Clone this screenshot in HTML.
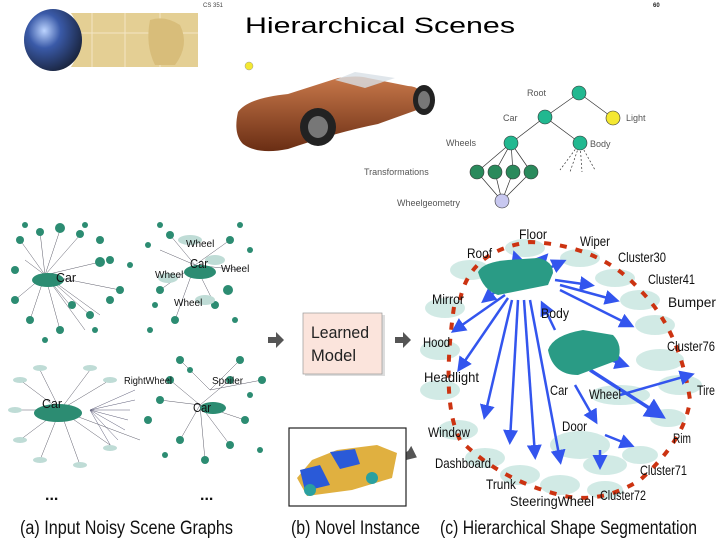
<!DOCTYPE html>
<html><head><meta charset="utf-8"><style>
html,body{margin:0;padding:0;background:#fff;width:720px;height:540px;overflow:hidden}
svg text{font-family:"Liberation Sans",sans-serif}
</style></head><body>
<svg width="720" height="540" viewBox="0 0 720 540" xmlns="http://www.w3.org/2000/svg">
<defs>
<radialGradient id="gl" cx="0.35" cy="0.35" r="0.7"><stop offset="0" stop-color="#bcd4ff"/><stop offset="0.4" stop-color="#3a5aa8"/><stop offset="1" stop-color="#1a2540"/></radialGradient>
<linearGradient id="br" x1="0" y1="0" x2="0" y2="1"><stop offset="0" stop-color="#c8784a"/><stop offset="1" stop-color="#6a2e14"/></linearGradient>
<marker id="ah" markerWidth="6" markerHeight="6" refX="4" refY="3" orient="auto"><path d="M0,0 L6,3 L0,6z" fill="#3355ee"/></marker>
</defs>
<!-- header -->
<rect x="62" y="13" width="136" height="54" fill="#e4cf94"/>
<path d="M92,13V67M125,13V67M160,13V67M62,33H198" stroke="#f3e6c4" stroke-width="1"/>
<path d="M150,20 q15,-5 30,5 q10,20 -5,40 l-20,0 q-10,-20 -5,-45z" fill="#d8bd7a"/>
<ellipse cx="64" cy="40" rx="14" ry="31" fill="#fff"/>
<ellipse cx="53" cy="40" rx="29" ry="31" fill="url(#gl)"/>
<text x="203" y="7" font-size="6" fill="#444">CS 351</text>
<text x="653" y="7" font-size="6" font-weight="bold" fill="#222">60</text>
<text x="245" y="33" font-size="22" fill="#000" textLength="270" lengthAdjust="spacingAndGlyphs">Hierarchical Scenes</text>
<circle cx="249" cy="66" r="4" fill="#f4e832" stroke="#999" stroke-width="0.5"/>
<!-- brown car -->
<path d="M238,112 q10,-14 50,-18 l50,-16 q20,-3 30,0 l40,8 q15,0 20,20 l-50,18 q-40,8 -90,25 q-30,6 -45,-5 q-10,-10 -5,-32z" fill="url(#br)"/>
<path d="M335,80 l20,-8 l40,6 l-30,10z" fill="#d8e0e6" opacity="0.8"/>
<ellipse cx="318" cy="127" rx="18" ry="19" fill="#222"/><ellipse cx="318" cy="127" rx="10" ry="11" fill="#777"/>
<ellipse cx="424" cy="100" rx="11" ry="15" fill="#222"/><ellipse cx="424" cy="100" rx="6" ry="9" fill="#777"/>
<!-- tree -->
<g stroke="#333" stroke-width="0.7" fill="none">
<path d="M579,93L545,117M579,93L613,118M545,117L511,143M545,117L580,143"/>
<path d="M511,143L477,172M511,143L495,172M511,143L513,172M511,143L531,172M477,172L502,201M495,172L502,201M513,172L502,201M531,172L502,201"/>
<path d="M580,143L560,170M580,143L570,172M580,143L582,172M580,143L595,170" stroke-dasharray="2,2"/>
</g>
<g stroke="#333" stroke-width="0.6">
<circle cx="579" cy="93" r="7" fill="#22b890"/><circle cx="545" cy="117" r="7" fill="#22b890"/>
<circle cx="613" cy="118" r="7" fill="#f4e832"/><circle cx="511" cy="143" r="7" fill="#22b890"/>
<circle cx="580" cy="143" r="7" fill="#22b890"/>
<circle cx="477" cy="172" r="7" fill="#2a8a5c"/><circle cx="495" cy="172" r="7" fill="#2a8a5c"/>
<circle cx="513" cy="172" r="7" fill="#2a8a5c"/><circle cx="531" cy="172" r="7" fill="#2a8a5c"/>
<circle cx="502" cy="201" r="7" fill="#c8c8f0"/>
</g>
<g font-size="9" fill="#555">
<text x="527" y="96">Root</text><text x="503" y="121">Car</text><text x="626" y="121">Light</text>
<text x="446" y="146">Wheels</text><text x="590" y="147">Body</text>
<text x="364" y="175">Transformations</text><text x="397" y="206">Wheelgeometry</text>
</g>
<!-- (a) graphs -->
<g stroke="#334" stroke-width="0.5" fill="none" opacity="0.8">
<path d="M45,275L20,240M45,275L40,232M45,275L60,230M45,275L80,235M45,275L100,262M45,275L15,300M45,275L30,320M45,275L60,330M45,275L90,315M45,275L70,305M45,275L100,315M45,275L85,330M45,275L25,260M45,275L120,290"/>
<path d="M195,265L170,235M195,265L230,240M195,265L160,290M195,265L215,305M195,265L240,270M195,265L175,320M195,265L160,250"/>
<path d="M60,410L20,380M60,410L40,370M60,410L90,370M60,410L110,380M60,410L20,440M60,410L40,460M60,410L80,465M60,410L110,445M60,410L140,440M60,410L15,410"/>
<path d="M90,410L135,390M90,410L135,400M90,410L130,410M90,410L128,420M90,410L125,430M90,410L118,440M90,410L112,448" stroke="#335"/>
<path d="M200,405L170,380M200,405L160,400M200,405L180,440M200,405L230,380M200,405L245,420M200,405L230,445M200,405L205,460M210,390L240,360M210,390L180,360M210,390L262,380"/>
</g>
<g fill="#2c8c72">
<ellipse cx="48" cy="280" rx="16" ry="7"/><ellipse cx="200" cy="272" rx="16" ry="7"/>
<ellipse cx="213" cy="408" rx="13" ry="6"/><ellipse cx="58" cy="413" rx="24" ry="9"/>
<circle cx="20" cy="240" r="4"/><circle cx="40" cy="232" r="4"/><circle cx="60" cy="228" r="5"/><circle cx="80" cy="234" r="4"/><circle cx="100" cy="262" r="5"/>
<circle cx="15" cy="300" r="4"/><circle cx="30" cy="320" r="4"/><circle cx="60" cy="330" r="4"/><circle cx="90" cy="315" r="4"/><circle cx="110" cy="300" r="4"/>
<circle cx="120" cy="290" r="4"/><circle cx="110" cy="260" r="4"/><circle cx="72" cy="305" r="4"/><circle cx="15" cy="270" r="4"/>
<circle cx="100" cy="240" r="4"/><circle cx="85" cy="225" r="3"/><circle cx="25" cy="225" r="3"/><circle cx="130" cy="265" r="3"/><circle cx="45" cy="340" r="3"/><circle cx="95" cy="330" r="3"/>
<circle cx="170" cy="235" r="4"/><circle cx="230" cy="240" r="4"/><circle cx="160" cy="290" r="4"/><circle cx="215" cy="305" r="4"/><circle cx="228" cy="290" r="5"/><circle cx="175" cy="320" r="4"/><circle cx="148" cy="245" r="3"/><circle cx="155" cy="305" r="3"/>
<circle cx="240" cy="225" r="3"/><circle cx="250" cy="250" r="3"/><circle cx="235" cy="320" r="3"/><circle cx="150" cy="330" r="3"/><circle cx="160" cy="225" r="3"/>
<circle cx="170" cy="380" r="4"/><circle cx="160" cy="400" r="4"/><circle cx="180" cy="440" r="4"/><circle cx="230" cy="380" r="4"/><circle cx="245" cy="420" r="4"/><circle cx="230" cy="445" r="4"/><circle cx="205" cy="460" r="4"/><circle cx="240" cy="360" r="4"/><circle cx="180" cy="360" r="4"/><circle cx="262" cy="380" r="4"/><circle cx="148" cy="420" r="4"/>
<circle cx="190" cy="370" r="3"/><circle cx="250" cy="395" r="3"/><circle cx="260" cy="450" r="3"/><circle cx="165" cy="455" r="3"/>
</g>
<g fill="#bfdcd6">
<ellipse cx="20" cy="380" rx="7" ry="3"/><ellipse cx="40" cy="368" rx="7" ry="3"/><ellipse cx="90" cy="368" rx="7" ry="3"/><ellipse cx="110" cy="380" rx="7" ry="3"/>
<ellipse cx="20" cy="440" rx="7" ry="3"/><ellipse cx="40" cy="460" rx="7" ry="3"/><ellipse cx="80" cy="465" rx="7" ry="3"/><ellipse cx="110" cy="448" rx="7" ry="3"/><ellipse cx="15" cy="410" rx="7" ry="3"/>
<ellipse cx="190" cy="240" rx="12" ry="5"/><ellipse cx="215" cy="260" rx="10" ry="5"/><ellipse cx="168" cy="278" rx="10" ry="5"/><ellipse cx="205" cy="300" rx="10" ry="5"/>
</g>
<g font-size="13" fill="#111">
<text x="56" y="282" textLength="20" lengthAdjust="spacingAndGlyphs">Car</text>
<text x="190" y="268" textLength="18" lengthAdjust="spacingAndGlyphs">Car</text>
<text x="42" y="408" textLength="20" lengthAdjust="spacingAndGlyphs">Car</text>
<text x="193" y="412" textLength="18" lengthAdjust="spacingAndGlyphs">Car</text>
</g>
<g font-size="10" fill="#111">
<text x="186" y="247">Wheel</text><text x="221" y="272">Wheel</text><text x="155" y="278">Wheel</text><text x="174" y="306">Wheel</text>
<text x="124" y="384" textLength="48" lengthAdjust="spacingAndGlyphs">RightWheel</text><text x="212" y="384">Spoiler</text>
</g>
<text x="45" y="500" font-size="16" font-weight="bold" fill="#111">...</text>
<text x="200" y="500" font-size="16" font-weight="bold" fill="#111">...</text>
<!-- arrows grey -->
<path d="M268,337h8v-5l8,8l-8,8v-5h-8z" fill="#555"/>
<path d="M395,337h8v-5l8,8l-8,8v-5h-8z" fill="#555"/>
<path d="M411,450 l-5,8 l8,-2z M396,461 l14,-9" stroke="#555" stroke-width="4" fill="#555"/>
<!-- learned model -->
<rect x="305" y="315" width="80" height="61" fill="#bbb" opacity="0.5"/>
<rect x="303" y="313" width="79" height="61" fill="#fbe4dc" stroke="#999" stroke-width="0.7"/>
<text x="311" y="338" font-size="17" fill="#222" textLength="58" lengthAdjust="spacingAndGlyphs">Learned</text>
<text x="311" y="361" font-size="17" fill="#222" textLength="45" lengthAdjust="spacingAndGlyphs">Model</text>
<!-- novel instance -->
<rect x="289" y="428" width="117" height="78" fill="#fff" stroke="#222" stroke-width="1.2"/>
<path d="M297,478 l15,-18 l25,-10 l40,-5 l20,8 l-5,25 l-40,12 l-45,6z" fill="#e0b040"/>
<path d="M300,470 l20,-5 l10,20 l-25,6z M330,452 l25,-3 l5,15 l-20,5z" fill="#2a5ad8"/>
<circle cx="310" cy="490" r="6" fill="#2aa0a0"/><circle cx="372" cy="478" r="6" fill="#2aa0a0"/>
<!-- (c) -->
<g fill="#cde8e3" opacity="0.9">
<ellipse cx="470" cy="270" rx="20" ry="10"/><ellipse cx="525" cy="248" rx="20" ry="9"/><ellipse cx="580" cy="258" rx="20" ry="9"/>
<ellipse cx="615" cy="278" rx="20" ry="9"/><ellipse cx="640" cy="300" rx="20" ry="10"/><ellipse cx="655" cy="325" rx="20" ry="10"/>
<ellipse cx="445" cy="308" rx="20" ry="10"/><ellipse cx="440" cy="350" rx="20" ry="10"/><ellipse cx="440" cy="390" rx="20" ry="10"/>
<ellipse cx="660" cy="360" rx="24" ry="11"/><ellipse cx="680" cy="385" rx="22" ry="10"/><ellipse cx="620" cy="395" rx="30" ry="10"/>
<ellipse cx="668" cy="418" rx="18" ry="9"/><ellipse cx="458" cy="430" rx="20" ry="10"/><ellipse cx="485" cy="458" rx="20" ry="10"/>
<ellipse cx="520" cy="475" rx="20" ry="10"/><ellipse cx="560" cy="485" rx="20" ry="10"/><ellipse cx="605" cy="465" rx="22" ry="10"/>
<ellipse cx="640" cy="455" rx="18" ry="9"/><ellipse cx="605" cy="490" rx="18" ry="9"/><ellipse cx="580" cy="445" rx="30" ry="14"/>
</g>
<g stroke="#cc3311" stroke-width="4" stroke-dasharray="7,9" fill="none">
<path d="M460,300 Q470,250 530,242 Q600,245 640,290 Q680,330 690,400 Q685,440 640,480 Q600,505 560,495 Q500,480 460,440 Q440,400 455,300"/>
</g>
<g stroke="#3355ee" stroke-width="2.5" fill="none" marker-end="url(#ah)">
<path d="M510,280L485,300"/><path d="M520,270L515,255"/><path d="M535,268L545,257"/><path d="M545,270L562,262"/>
<path d="M555,280L590,285"/><path d="M560,285L615,300"/><path d="M560,290L630,325"/>
<path d="M505,295L455,330"/><path d="M508,298L460,368"/><path d="M512,300L485,415"/><path d="M518,300L510,440"/>
<path d="M524,300L535,455"/><path d="M530,300L560,460"/><path d="M555,330L543,305"/>
<path d="M595,355L625,365"/><path d="M590,370L660,415" stroke-width="3.5"/><path d="M620,395L690,375"/>
<path d="M575,385L595,420"/><path d="M605,435L630,445"/><path d="M600,450L600,465"/>
</g>
<path d="M478,272 q5,-10 30,-12 l30,-2 q15,3 15,15 l-5,12 l-50,10 q-15,-5 -20,-23z" fill="#2a9b85"/>
<path d="M548,350 q5,-15 35,-20 l30,5 q10,10 5,25 l-40,15 q-25,0 -30,-25z" fill="#2a9b85"/>
<g font-size="14" fill="#111">
<text x="519" y="239" textLength="28" lengthAdjust="spacingAndGlyphs">Floor</text>
<text x="580" y="246" textLength="30" lengthAdjust="spacingAndGlyphs">Wiper</text>
<text x="467" y="258" textLength="25" lengthAdjust="spacingAndGlyphs">Roof</text>
<text x="618" y="262" textLength="48" lengthAdjust="spacingAndGlyphs">Cluster30</text>
<text x="648" y="284" textLength="47" lengthAdjust="spacingAndGlyphs">Cluster41</text>
<text x="668" y="307" textLength="48" lengthAdjust="spacingAndGlyphs">Bumper</text>
<text x="432" y="304" textLength="32" lengthAdjust="spacingAndGlyphs">Mirror</text>
<text x="541" y="318" textLength="28" lengthAdjust="spacingAndGlyphs">Body</text>
<text x="423" y="347" textLength="27" lengthAdjust="spacingAndGlyphs">Hood</text>
<text x="667" y="351" textLength="48" lengthAdjust="spacingAndGlyphs">Cluster76</text>
<text x="424" y="382" textLength="55" lengthAdjust="spacingAndGlyphs">Headlight</text>
<text x="550" y="395" textLength="18" lengthAdjust="spacingAndGlyphs">Car</text>
<text x="589" y="399" textLength="32" lengthAdjust="spacingAndGlyphs">Wheel</text>
<text x="697" y="395" textLength="18" lengthAdjust="spacingAndGlyphs">Tire</text>
<text x="428" y="437" textLength="42" lengthAdjust="spacingAndGlyphs">Window</text>
<text x="562" y="431" textLength="25" lengthAdjust="spacingAndGlyphs">Door</text>
<text x="673" y="443" textLength="18" lengthAdjust="spacingAndGlyphs">Rim</text>
<text x="435" y="468" textLength="56" lengthAdjust="spacingAndGlyphs">Dashboard</text>
<text x="640" y="475" textLength="47" lengthAdjust="spacingAndGlyphs">Cluster71</text>
<text x="486" y="489" textLength="30" lengthAdjust="spacingAndGlyphs">Trunk</text>
<text x="600" y="500" textLength="46" lengthAdjust="spacingAndGlyphs">Cluster72</text>
<text x="510" y="506" textLength="84" lengthAdjust="spacingAndGlyphs">SteeringWheel</text>
</g>
<g font-size="19" fill="#111">
<text x="20" y="534" textLength="213" lengthAdjust="spacingAndGlyphs">(a) Input Noisy Scene Graphs</text>
<text x="291" y="534" textLength="129" lengthAdjust="spacingAndGlyphs">(b) Novel Instance</text>
<text x="440" y="534" textLength="257" lengthAdjust="spacingAndGlyphs">(c) Hierarchical Shape Segmentation</text>
</g>
</svg>
</body></html>
